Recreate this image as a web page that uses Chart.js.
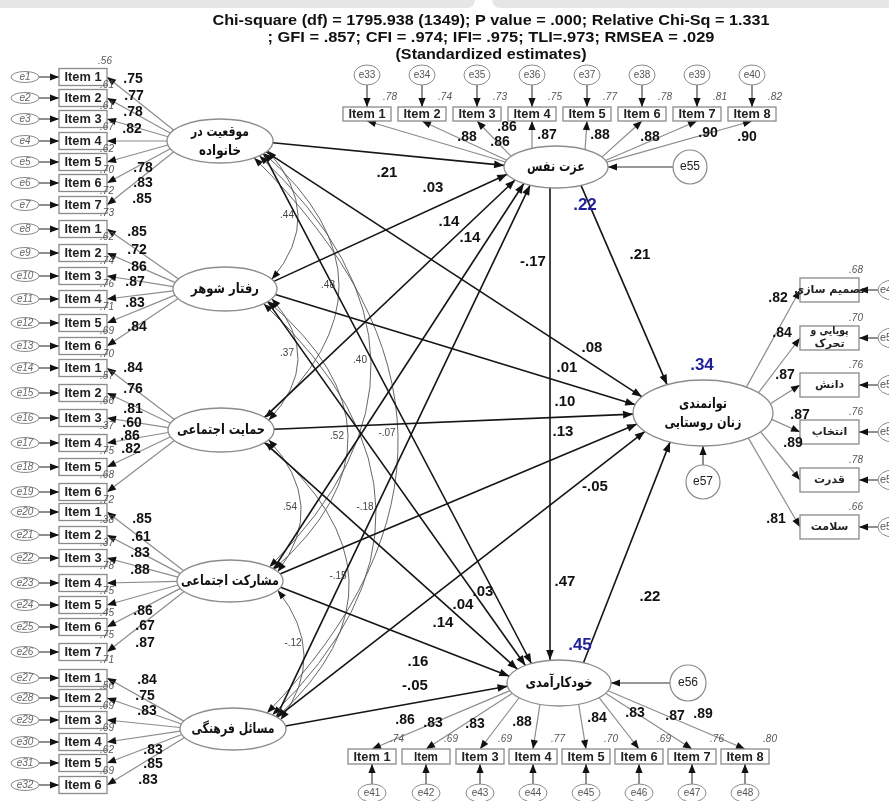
<!DOCTYPE html>
<html>
<head>
<meta charset="utf-8">
<script src="https://cdn.jsdelivr.net/npm/chart.js@4.4.1/dist/chart.umd.min.js"></script>
<style>
html, body { margin: 0; padding: 0; background: #fff; }
canvas { display: block; }
</style>
</head>
<body>
<canvas id="sem" width="889" height="801"></canvas>
<script>
// ---- values ----
const titleLines = [
  'Chi-square (df) = 1795.938 (1349); P value = .000; Relative Chi-Sq = 1.331',
  '; GFI = .857; CFI = .974; IFI= .975; TLI=.973; RMSEA = .029',
  '(Standardized estimates)'
];

const exoNames = [['موقعیت در', 'خانواده'], ['رفتار شوهر'], ['حمایت اجتماعی'], ['مشارکت اجتماعی'], ['مسائل فرهنگی']];
const exoLoadings = [
  [.75, .77, .78, .82, .78, .83, .85],
  [.85, .72, .86, .87, .83, .84],
  [.84, .76, .81, .60, .86, .82],
  [.85, .61, .83, .88, .86, .67, .87],
  [.84, .75, .83, .83, .85, .83]
];
const exoItemR2 = [
  [.61, .61, .67, .62, .70, .72, .73],
  [.62, .74, .76, .71, .69, .70],
  [.57, .66, .37, .75, .68, .72],
  [.38, .37, .78, .75, .45, .75, .71],
  [.56, .69, .69, .62, .69, null]
];
const firstItemR2 = .56;

const esteemName = 'عزت نفس';
const esteemLoadings = [.88, .86, .86, .87, .88, .88, .90, .90];
const esteemItemR2 = [.78, .74, .73, .75, .77, .78, .81, .82];

const efficacyName = 'خودکارآمدی';
const efficacyItems = ['Item 1', 'Item', 'Item 3', 'Item 4', 'Item 5', 'Item 6', 'Item 7', 'Item 8'];
const efficacyLoadings = [.86, .83, .83, .88, .84, .83, .87, .89];
const efficacyItemR2 = [.74, .69, .69, .77, .70, .69, .76, .80];

const empowerName = ['توانمندی', 'زنان روستایی'];
const empowerItems = [['تصمیم سازی'], ['پویایی و', 'تحرک'], ['دانش'], ['انتخاب'], ['قدرت'], ['سلامت']];
const empowerLoadings = [.82, .84, .87, .87, .89, .81];
const empowerItemR2 = [.68, .70, .76, .76, .78, .66];

const pathsToEsteem = [.21, .03, .14, .14, -.17];
const pathsToEmpower = [.08, .01, .10, .13, -.05];
const pathsToEfficacy = [.03, .04, .14, .16, -.05];
const esteemToEfficacy = .47;
const esteemToEmpower = .21;
const efficacyToEmpower = .22;
const endoR2 = [.22, .34, .45]; // esteem, empowerment, self-efficacy

const covPairs = [[0, 1], [0, 2], [0, 3], [0, 4], [1, 2], [1, 3], [1, 4], [2, 3], [2, 4], [3, 4]];
const covValues = [.44, .48, .40, -.07, .37, .52, -.18, .54, -.15, -.12];

// ---- layout (diagram units = pixels of the 889x801 picture) ----
const exoNodes = [
  { c: [220, 141], rx: 53, ry: 22 },
  { c: [225, 289], rx: 52, ry: 22 },
  { c: [221, 430], rx: 53, ry: 22 },
  { c: [230, 581], rx: 53, ry: 21 },
  { c: [233, 729], rx: 53, ry: 21 }
];
const exoItemY = [
  [77, 98, 119, 141, 162, 183, 205],
  [229, 253, 276, 299, 323, 346],
  [368, 393, 418, 443, 467, 492],
  [512, 535, 558, 583, 605, 627, 652],
  [678, 698, 720, 742, 763, 785]
];
const exoLoadPos = [
  [[133, 79], [134, 96], [133, 112], [132, 129], [143, 168], [143, 183], [142, 199]],
  [[137, 232], [137, 250], [137, 267], [135, 282], [135, 303], [137, 327]],
  [[133, 368], [133, 389], [133, 409], [132, 423], [130, 436], [131, 449]],
  [[142, 519], [141, 537], [140, 553], [140, 570], [143, 611], [145, 626], [145, 643]],
  [[147, 680], [145, 696], [147, 711], [153, 750], [153, 764], [148, 780]]
];
const esteemNode = { c: [556, 167], rx: 52, ry: 21 };
const empowerNode = { c: [703, 413], rx: 70, ry: 33 };
const efficacyNode = { c: [559, 683], rx: 52, ry: 23 };

const topItemX = [367, 422, 477, 532, 587, 642, 697, 752];
const topLoadPos = [[467, 137], [507, 127], [500, 142], [547, 135], [600, 135], [650, 137], [708, 133], [747, 137]];
const botItemX = [372, 426, 480, 533, 586, 639, 692, 745];
const botLoadPos = [[405, 720], [433, 723], [475, 724], [522, 722], [597, 718], [635, 713], [675, 716], [703, 714]];
const rightItemY = [290, 338, 385, 432, 480, 527];
const rightLoadPos = [[778, 298], [782, 333], [785, 375], [800, 415], [793, 443], [776, 519]];

const toEsteemPos = [[387, 173], [433, 188], [449, 222], [470, 238], [533, 262]];
const toEmpowerPos = [[592, 348], [567, 368], [565, 402], [563, 432], [595, 487]];
const toEfficacyPos = [[483, 592], [463, 605], [443, 623], [418, 662], [415, 686]];
const covLabelPos = [[287, 215], [328, 285], [360, 360], [387, 433], [287, 353], [337, 436], [365, 507], [290, 507], [338, 576], [293, 643]];
const endoR2Pos = [[585, 205], [702, 365], [580, 645]];

function fmt(v) {
  return (v < 0 ? '-' : '') + Math.abs(v).toFixed(2).replace(/^0/, '');
}

const semPlugin = {
  id: 'semDiagram',
  afterDatasetsDraw(chart) {
    const ctx = chart.ctx;
    const xs = chart.scales.x, ys = chart.scales.y;
    const X = v => xs.getPixelForValue(v);
    const Y = v => ys.getPixelForValue(v);
    const LX = d => xs.getPixelForValue(d) - xs.getPixelForValue(0);
    const LY = d => ys.getPixelForValue(d) - ys.getPixelForValue(0);

    const anchor = (n, tx, ty, lim) => {
      let t = Math.atan2(ty - n.c[1], tx - n.c[0]);
      if (lim) t = Math.max(-lim, Math.min(lim, t));
      return [n.c[0] + n.rx * Math.cos(t), n.c[1] + n.ry * Math.sin(t)];
    };

    function head(x1, y1, x2, y2, len, half) {
      const a = Math.atan2(Y(y2) - Y(y1), X(x2) - X(x1));
      const px = X(x2), py = Y(y2);
      ctx.beginPath();
      ctx.moveTo(px, py);
      ctx.lineTo(px - len * Math.cos(a) + half * Math.sin(a), py - len * Math.sin(a) - half * Math.cos(a));
      ctx.lineTo(px - len * Math.cos(a) - half * Math.sin(a), py - len * Math.sin(a) + half * Math.cos(a));
      ctx.closePath();
      ctx.fillStyle = '#111';
      ctx.fill();
    }

    function arrow(a, b, color, lw, len, half) {
      ctx.beginPath();
      ctx.moveTo(X(a[0]), Y(a[1]));
      ctx.lineTo(X(b[0]), Y(b[1]));
      ctx.strokeStyle = color;
      ctx.lineWidth = lw;
      ctx.stroke();
      head(a[0], a[1], b[0], b[1], len || 9, half || 3.6);
    }

    function ellipse(cx, cy, rx, ry, stroke, lw) {
      ctx.beginPath();
      ctx.ellipse(X(cx), Y(cy), LX(rx), LY(ry), 0, 0, Math.PI * 2);
      ctx.fillStyle = '#fff';
      ctx.fill();
      ctx.strokeStyle = stroke;
      ctx.lineWidth = lw;
      ctx.stroke();
    }

    function box(cx, cy, w, h) {
      ctx.fillStyle = '#fff';
      ctx.fillRect(X(cx - w / 2), Y(cy - h / 2), LX(w), LY(h));
      ctx.strokeStyle = '#8a8a8a';
      ctx.lineWidth = 1.3;
      ctx.strokeRect(X(cx - w / 2), Y(cy - h / 2), LX(w), LY(h));
    }

    function text(str, x, y, font, color, align, fitW) {
      ctx.font = font;
      ctx.fillStyle = color;
      ctx.textAlign = align || 'center';
      ctx.textBaseline = 'middle';
      const w = ctx.measureText(str).width;
      if (fitW && w > 0) {
        const k = Math.max(0.55, Math.min(1.3, fitW / w));
        ctx.save();
        ctx.translate(X(x), Y(y));
        ctx.scale(k, 1);
        ctx.fillText(str, 0, 0);
        ctx.restore();
      } else {
        ctx.fillText(str, X(x), Y(y));
      }
    }

    const boldNum = '700 14px "Liberation Sans", Arial, sans-serif';
    const boldPath = '700 15px "Liberation Sans", Arial, sans-serif';
    const small = 'italic 10px "Liberation Sans", Arial, sans-serif';
    const fa = size => '700 ' + size + 'px "DejaVu Sans", sans-serif';

    // faint page header band
    ctx.fillStyle = '#e6e6e6';
    ctx.beginPath();
    ctx.roundRect(X(-10), Y(-10), LX(485), LY(18), 8);
    ctx.roundRect(X(492), Y(-10), LX(410), LY(18), 8);
    ctx.fill();

    // covariances between exogenous factors
    covPairs.forEach((p, k) => {
      const span = p[1] - p[0];
      const ang = (18 + 8 * span) * Math.PI / 180;
      const up = exoNodes[p[0]], lo = exoNodes[p[1]];
      const a = [up.c[0] + up.rx * Math.cos(ang), up.c[1] + up.ry * Math.sin(ang)];
      const b = [lo.c[0] + lo.rx * Math.cos(ang), lo.c[1] - lo.ry * Math.sin(ang)];
      const midX = covLabelPos[k][0] + 11;
      const cx = 2 * midX - 0.5 * (a[0] + b[0]);
      const cy = (a[1] + b[1]) / 2;
      ctx.beginPath();
      ctx.moveTo(X(a[0]), Y(a[1]));
      ctx.quadraticCurveTo(X(cx), Y(cy), X(b[0]), Y(b[1]));
      ctx.strokeStyle = '#555';
      ctx.lineWidth = 0.9;
      ctx.stroke();
      head(cx, cy, a[0], a[1], 9, 3.4);
      head(cx, cy, b[0], b[1], 9, 3.4);
    });

    // structural paths
    const lim = 35 * Math.PI / 180;
    exoNodes.forEach(n => {
      [esteemNode, empowerNode, efficacyNode].forEach(t => {
        const s = anchor(n, t.c[0], t.c[1], lim);
        const e = anchor(t, n.c[0], n.c[1]);
        arrow(s, e, '#151515', 1.6, 10, 3.8);
      });
    });
    arrow([550, 188], [550, 660], '#151515', 1.6, 10, 3.8);
    arrow(anchor(esteemNode, 640, 320), anchor(empowerNode, esteemNode.c[0], esteemNode.c[1]), '#151515', 1.6, 10, 3.8);
    arrow(anchor(efficacyNode, empowerNode.c[0], empowerNode.c[1]), anchor(empowerNode, efficacyNode.c[0], efficacyNode.c[1]), '#151515', 1.6, 10, 3.8);

    // measurement model: left factors
    const loadCol = '#8c8c8c';
    exoNodes.forEach((n, g) => {
      exoItemY[g].forEach(y => {
        arrow(anchor(n, 107, y), [107, y], loadCol, 1.2, 9, 3.6);
        arrow([39, y], [59, y], '#333', 1.1, 9, 3.6);
      });
    });
    topItemX.forEach(x => {
      arrow(anchor(esteemNode, x, 121), [x, 121], loadCol, 1.2, 9, 3.6);
      arrow([x, 85], [x, 107], '#333', 1.1, 9, 3.6);
    });
    botItemX.forEach(x => {
      arrow(anchor(efficacyNode, x, 749), [x, 749], loadCol, 1.2, 9, 3.6);
      arrow([x, 784], [x, 764], '#333', 1.1, 9, 3.6);
    });
    rightItemY.forEach(y => {
      arrow(anchor(empowerNode, 800, y), [800, y], loadCol, 1.2, 9, 3.6);
      arrow([878, y], [859, y], '#333', 1.1, 9, 3.6);
    });
    arrow([673, 167], [608, 167], '#333', 1.1, 9, 3.6);
    arrow([670, 683], [611, 683], '#333', 1.1, 9, 3.6);
    arrow([703, 465], [703, 446], '#333', 1.1, 9, 3.6);

    // nodes
    exoNodes.forEach(n => ellipse(n.c[0], n.c[1], n.rx, n.ry, '#8c8c8c', 1.3));
    [esteemNode, empowerNode, efficacyNode].forEach(n => ellipse(n.c[0], n.c[1], n.rx, n.ry, '#8c8c8c', 1.3));
    let eNum = 1;
    exoItemY.forEach((ys_, g) => {
      ys_.forEach((y, i) => {
        box(83, y, 48, 17);
        text('Item ' + (i + 1), 83, y + 0.5, '700 13px "Liberation Sans", Arial, sans-serif', '#222', 'center', 37);
        ellipse(25, y, 14, 5.5, '#8a8a8a', 1);
        text('e' + eNum, 25, y, small, '#666', 'center');
        eNum++;
      });
    });
    topItemX.forEach((x, i) => {
      box(x, 114, 48, 14);
      text('Item ' + (i + 1), x, 114.5, '700 13px "Liberation Sans", Arial, sans-serif', '#222', 'center', 37);
      ellipse(x, 75, 13, 10, '#8a8a8a', 1);
      text('e' + (33 + i), x, 75, '10px "Liberation Sans", Arial, sans-serif', '#555', 'center');
    });
    botItemX.forEach((x, i) => {
      box(x, 756.5, 48, 15);
      text(efficacyItems[i], x, 757, '700 13px "Liberation Sans", Arial, sans-serif', '#222', 'center', efficacyItems[i].length > 4 ? 37 : 24);
      ellipse(x, 793, 14, 9, '#8a8a8a', 1);
      text('e' + (41 + i), x, 793, '10px "Liberation Sans", Arial, sans-serif', '#555', 'center');
    });
    rightItemY.forEach((y, i) => {
      box(829.5, y, 59, 24);
      const lines = empowerItems[i];
      if (lines.length === 1) {
        text(lines[0], 829.5, y, fa(11), '#222', 'center');
      } else {
        text(lines[0], 829.5, y - 6.5, fa(11), '#222', 'center', 38);
        text(lines[1], 829.5, y + 6.5, fa(11), '#222', 'center', 30);
      }
      ellipse(893, y, 15, 10, '#8a8a8a', 1);
      text('e' + (49 + i), 880, y, '11px "Liberation Sans", Arial, sans-serif', '#555', 'left');
    });
    ellipse(690, 167, 17, 17, '#8a8a8a', 1.2);
    text('e55', 690, 167, '12px "Liberation Sans", Arial, sans-serif', '#222', 'center');
    ellipse(688, 683, 18, 18, '#8a8a8a', 1.2);
    text('e56', 688, 683, '12px "Liberation Sans", Arial, sans-serif', '#222', 'center');
    ellipse(703, 482, 17, 17, '#8a8a8a', 1.2);
    text('e57', 703, 482, '12px "Liberation Sans", Arial, sans-serif', '#222', 'center');

    // factor names
    const exoFit = [[58, 42], [68], [88], [98], [83]];
    exoNodes.forEach((n, g) => {
      const nm = exoNames[g];
      if (nm.length === 2) {
        text(nm[0], n.c[0], n.c[1] - 9, fa(14), '#111', 'center', exoFit[g][0]);
        text(nm[1], n.c[0], n.c[1] + 10, fa(14), '#111', 'center', exoFit[g][1]);
      } else {
        text(nm[0], n.c[0], n.c[1], fa(14), '#111', 'center', exoFit[g][0]);
      }
    });
    text(esteemName, esteemNode.c[0], esteemNode.c[1], fa(14), '#111', 'center', 58);
    text(efficacyName, efficacyNode.c[0], efficacyNode.c[1], fa(14), '#111', 'center', 67);
    text(empowerName[0], 703, 404, fa(14), '#111', 'center', 48);
    text(empowerName[1], 703, 423, fa(14), '#111', 'center', 77);

    // estimates
    exoLoadings.forEach((arr, g) => {
      arr.forEach((v, i) => {
        const p = exoLoadPos[g][i];
        text(fmt(v), p[0], p[1], boldNum, '#111', 'center');
      });
    });
    exoItemR2.forEach((arr, g) => {
      arr.forEach((v, i) => {
        if (v === null) return;
        text(fmt(v), 107, exoItemY[g][i] + 8, small, '#555', 'center');
      });
    });
    text(fmt(firstItemR2), 105, 61, small, '#555', 'center');
    esteemLoadings.forEach((v, i) => text(fmt(v), topLoadPos[i][0], topLoadPos[i][1], boldNum, '#111', 'center'));
    esteemItemR2.forEach((v, i) => text(fmt(v), topItemX[i] + 23, 97, small, '#555', 'center'));
    efficacyLoadings.forEach((v, i) => text(fmt(v), botLoadPos[i][0], botLoadPos[i][1], boldNum, '#111', 'center'));
    efficacyItemR2.forEach((v, i) => text(fmt(v), botItemX[i] + 25, 739, small, '#555', 'center'));
    empowerLoadings.forEach((v, i) => text(fmt(v), rightLoadPos[i][0], rightLoadPos[i][1], boldNum, '#111', 'center'));
    empowerItemR2.forEach((v, i) => text(fmt(v), 856, rightItemY[i] - 20, small, '#555', 'center'));

    pathsToEsteem.forEach((v, i) => text(fmt(v), toEsteemPos[i][0], toEsteemPos[i][1], boldPath, '#111', 'center'));
    pathsToEmpower.forEach((v, i) => text(fmt(v), toEmpowerPos[i][0], toEmpowerPos[i][1], boldPath, '#111', 'center'));
    pathsToEfficacy.forEach((v, i) => text(fmt(v), toEfficacyPos[i][0], toEfficacyPos[i][1], boldPath, '#111', 'center'));
    text(fmt(esteemToEfficacy), 565, 582, boldPath, '#111', 'center');
    text(fmt(esteemToEmpower), 640, 255, boldPath, '#111', 'center');
    text(fmt(efficacyToEmpower), 650, 597, boldPath, '#111', 'center');
    endoR2.forEach((v, i) => text(fmt(v), endoR2Pos[i][0], endoR2Pos[i][1], '700 17px "Liberation Sans", Arial, sans-serif', '#1f1f9c', 'center'));
    covValues.forEach((v, k) => text(fmt(v), covLabelPos[k][0], covLabelPos[k][1], '10px "Liberation Sans", Arial, sans-serif', '#444', 'center'));

    // title
    const titleFit = [557, 447, 191];
    const titleY = [21, 38, 55];
    titleLines.forEach((t, i) => text(t, 491, titleY[i], '700 15px "Liberation Sans", Arial, sans-serif', '#111', 'center', titleFit[i]));
  }
};

// node centres as the only dataset; every mark is placed through the x/y scales
const nodePoints = exoNodes.concat([esteemNode, empowerNode, efficacyNode]).map(n => ({ x: n.c[0], y: n.c[1] }));

new Chart(document.getElementById('sem'), {
  type: 'scatter',
  data: { datasets: [{ data: nodePoints, pointRadius: 0 }] },
  options: {
    responsive: false,
    animation: false,
    layout: { padding: 0 },
    plugins: { legend: { display: false }, tooltip: { enabled: false } },
    scales: {
      x: { type: 'linear', min: 0, max: 889, display: false },
      y: { type: 'linear', min: 0, max: 801, reverse: true, display: false }
    }
  },
  plugins: [semPlugin]
});
</script>
</body>
</html>
